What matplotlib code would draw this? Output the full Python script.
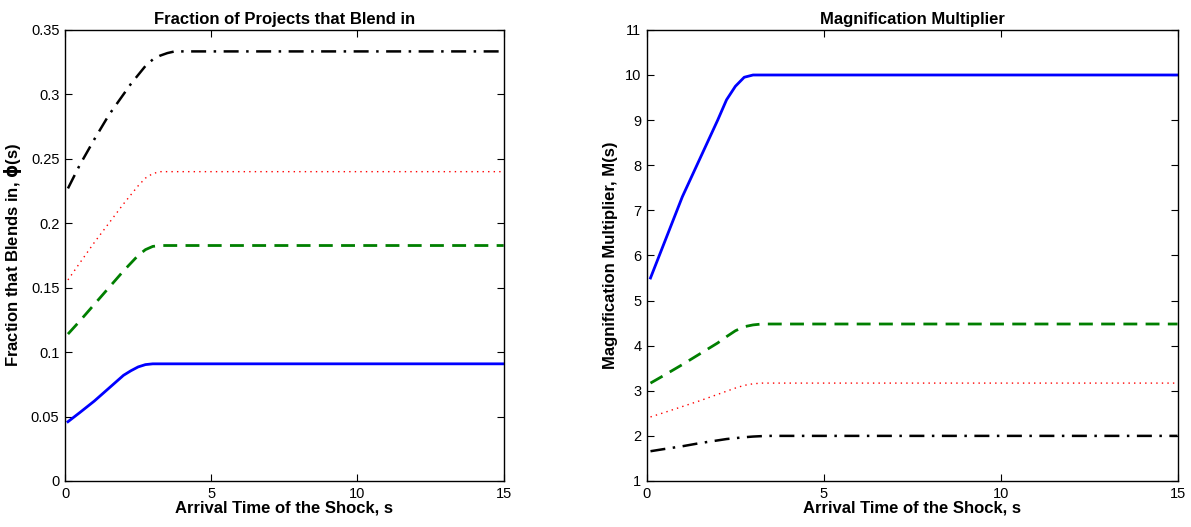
import matplotlib
matplotlib.use("Agg")
import matplotlib.pyplot as plt

# x sample points (arrival time of the shock)
s_pts = [0.1, 0.5, 1.0, 1.5, 2.0, 2.25, 2.5, 2.75, 3.0, 3.25, 3.5, 3.75, 4.0, 15.0]

# Left panel: fraction that blends in
phi_blue  = [0.046, 0.053, 0.062, 0.072, 0.082, 0.0855, 0.0885, 0.0903, 0.0909, 0.0909, 0.0909, 0.0909, 0.0909, 0.0909]
phi_green = [0.114, 0.124, 0.137, 0.150, 0.163, 0.169, 0.175, 0.1795, 0.182, 0.1827, 0.1827, 0.1827, 0.1827, 0.1827]
phi_red   = [0.156, 0.169, 0.185, 0.200, 0.215, 0.222, 0.229, 0.235, 0.2385, 0.240, 0.240, 0.240, 0.240, 0.240]
phi_black = [0.227, 0.245, 0.265, 0.284, 0.300, 0.308, 0.315, 0.322, 0.327, 0.330, 0.332, 0.3333, 0.3333, 0.3333]

# Right panel: magnification multiplier
m_blue  = [5.5, 6.3, 7.3, 8.15, 9.0, 9.45, 9.75, 9.95, 10.0, 10.0, 10.0, 10.0, 10.0, 10.0]
m_green = [3.17, 3.35, 3.58, 3.82, 4.06, 4.2, 4.33, 4.42, 4.46, 4.48, 4.48, 4.48, 4.48, 4.48]
m_red   = [2.42, 2.52, 2.65, 2.78, 2.92, 2.99, 3.06, 3.12, 3.155, 3.17, 3.17, 3.17, 3.17, 3.17]
m_black = [1.66, 1.71, 1.77, 1.84, 1.90, 1.93, 1.95, 1.97, 1.985, 1.995, 2.0, 2.0, 2.0, 2.0]

left_yticks = [0, 0.05, 0.1, 0.15, 0.2, 0.25, 0.3, 0.35]
left_yticklabels = ["0", "0.05", "0.1", "0.15", "0.2", "0.25", "0.3", "0.35"]
right_yticks = list(range(1, 12))
xticks = [0, 5, 10, 15]

plt.rcParams['font.family'] = ['Liberation Sans', 'DejaVu Sans']

fig = plt.figure(figsize=(11.91, 5.27), dpi=100)
ax1 = fig.add_axes([0.0546, 0.0873, 0.3683, 0.856])
ax2 = fig.add_axes([0.5432, 0.0873, 0.4455, 0.856])

styles = [
    dict(color='#0000ff', ls='-', lw=2.0),
    dict(color='#007f00', ls=(0, (5, 3)), lw=2.0),
    dict(color='#ff0000', ls=(0, (1, 3)), lw=1.0),
    dict(color='black', ls=(0, (6, 3, 1, 3)), lw=1.8),
]

for y, st in zip([phi_blue, phi_green, phi_red, phi_black], styles):
    ax1.plot(s_pts, y, **st)
for y, st in zip([m_blue, m_green, m_red, m_black], styles):
    ax2.plot(s_pts, y, **st)

ax1.set_xlim(0, 15)
ax1.set_ylim(0, 0.35)
ax1.set_yticks(left_yticks)
ax1.set_yticklabels(left_yticklabels)
ax2.set_xlim(0, 15)
ax2.set_ylim(1, 11)
ax2.set_yticks(right_yticks)

for ax in (ax1, ax2):
    ax.set_xticks(xticks)
    ax.tick_params(direction='in', top=True, right=True, length=5, labelsize=10.5, width=0.8, pad=4)
    for sp in ax.spines.values():
        sp.set_linewidth(1.0)
    ax.set_xlabel('Arrival Time of the Shock, s', fontsize=12, fontweight='bold', labelpad=0)

ax1.set_title('Fraction of Projects that Blend in', fontsize=12, fontweight='bold', pad=4)
ax1.set_ylabel(r'Fraction that Blends in, $\mathbf{\phi}$(s)', fontsize=12, fontweight='bold', labelpad=5)
ax2.set_title('Magnification Multiplier', fontsize=12, fontweight='bold', pad=4)
ax2.set_ylabel('Magnification Multiplier, M(s)', fontsize=12, fontweight='bold', labelpad=5)

fig.savefig('out.png', dpi=100)
